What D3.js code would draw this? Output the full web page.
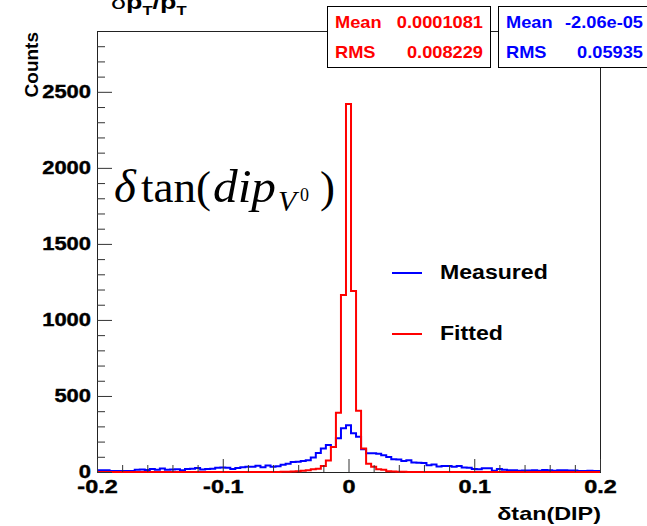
<!DOCTYPE html>
<html>
<head>
<meta charset="utf-8">
<script src="https://cdn.jsdelivr.net/npm/d3@7"></script>
<style>
  body { margin: 0; background: #fff; }
  svg { display: block; }
</style>
</head>
<body>
<svg id="chart"></svg>
<script>
// histogram binning (101 bins of 0.004, centred on multiples of 0.004)
var binLow = -0.202;
var binWidth = 0.004;

// Measured (blue), bins from -0.2 to 0.2
var measured = [
  11, 12, 12, 6, 6, 7, 6, 6, 14, 16,
  13, 20, 14, 23, 14, 17, 18, 12, 20, 22,
  26, 17, 20, 21, 28, 30, 28, 20, 26, 31,
  34, 35, 41, 31, 43, 35, 38, 48, 55, 66,
  68, 72, 78, 95, 125, 155, 178, 165, 222, 288,
  308,
  255, 232, 150, 123, 123, 120, 110, 99, 84, 83,
  72, 77, 62, 61, 60, 45, 50, 36, 39, 39,
  35, 39, 29, 28, 20, 18, 25, 24, 9, 20,
  14, 12, 12, 8, 10, 10, 11, 9, 13, 12,
  8, 12, 12, 10, 10, 6, 6, 8, 6, 7
];

// Fitted (red)
var fitted = [
  0, 0, 0, 0, 0, 0, 0, 0, 0, 0,
  0, 0, 0, 0, 0, 0, 0, 0, 0, 0,
  0, 0, 0, 0, 0, 0, 0, 0, 0, 0,
  0, 0, 0, 0, 0, 0, 0, 1, 2, 3,
  5, 8, 12, 18, 22, 40, 75, 165, 390, 1164,
  2420,
  1190, 403, 155, 55, 35, 18, 15, 5, 3, 2,
  1, 0, 0, 0, 0, 0, 0, 0, 0, 0,
  0, 0, 0, 0, 0, 0, 0, 0, 0, 0,
  0, 0, 0, 0, 0, 0, 0, 0, 0, 0,
  0, 0, 0, 0, 0, 0, 0, 0, 0, 0
];

var xTicks = [-0.2, -0.1, 0, 0.1, 0.2];
var xTickLabels = ['-0.2', '-0.1', '0', '0.1', '0.2'];
var yTicks = [0, 500, 1000, 1500, 2000, 2500];
var yTickLabels = ['0', '500', '1000', '1500', '2000', '2500'];

var statNames = ['Mean', 'RMS'];
var fittedStats = ['0.0001081', '0.008229'];
var measuredStats = ['-2.06e-05', '0.05935'];
var legendNames = ['Measured', 'Fitted'];

var svgWidth = 647;
var svgHeight = 526;

var frameLeft = 97;
var frameRight = 600;
var frameTop = 31;
var frameBottom = 472;

var sans = '"Liberation Sans", Arial, Helvetica, sans-serif';
var serif = '"Liberation Serif", "Times New Roman", serif';

var svg = d3.select('#chart')
  .attr('width', svgWidth)
  .attr('height', svgHeight);

var x = d3.scaleLinear()
  .domain([-0.2, 0.2])
  .range([frameLeft, frameRight]);

var y = d3.scaleLinear()
  .domain([0, 2900])
  .range([frameBottom, frameTop]);

// stretched text helper (the picture is a bit wider than it is tall)
function addText(parent, px, py, str, size, stretch, anchor, weight, family, style) {
  return parent.append('text')
    .attr('transform', 'translate(' + px + ',' + py + ') scale(' + stretch + ',1)')
    .attr('text-anchor', anchor || 'start')
    .style('font-family', family || sans)
    .style('font-weight', weight || 'bold')
    .style('font-style', style || 'normal')
    .style('font-size', size + 'px')
    .text(str);
}

svg.append('clipPath').attr('id', 'frame-clip')
  .append('rect')
    .attr('x', frameLeft)
    .attr('y', frameTop - 5)
    .attr('width', frameRight - frameLeft)
    .attr('height', frameBottom - frameTop + 10);

// frame
svg.append('rect')
  .attr('x', frameLeft + 0.5)
  .attr('y', frameTop + 0.5)
  .attr('width', frameRight - frameLeft)
  .attr('height', frameBottom - frameTop)
  .attr('fill', 'none')
  .attr('stroke', '#222')
  .attr('stroke-width', 1);

// histograms as step outlines
function steps(values) {
  var pts = [];
  for (var i = 0; i < values.length; i++) {
    var lo = binLow + i * binWidth;
    pts.push([lo, values[i]]);
    pts.push([lo + binWidth, values[i]]);
  }
  return pts;
}

var line = d3.line()
  .x(function(d) { return x(d[0]); })
  .y(function(d) { return y(d[1]); });

var plot = svg.append('g').attr('clip-path', 'url(#frame-clip)');

plot.append('path')
  .datum(steps(measured))
  .attr('d', line)
  .attr('fill', 'none')
  .attr('stroke', '#0000ff')
  .attr('stroke-width', 2);

plot.append('path')
  .datum(steps(fitted))
  .attr('d', line)
  .attr('fill', 'none')
  .attr('stroke', '#ff0000')
  .attr('stroke-width', 2);

// y axis: minor then major
svg.append('g')
  .attr('transform', 'translate(' + frameLeft + ',0)')
  .call(d3.axisLeft(y)
    .tickValues(d3.range(100, 2900, 100).filter(function(v) { return v % 500 != 0; }))
    .tickSize(-8).tickSizeOuter(0).tickFormat(''))
  .call(function(g) { g.select('.domain').remove(); })
  .selectAll('line').attr('stroke', '#333');

var yAxisG = svg.append('g')
  .attr('transform', 'translate(' + frameLeft + ',0)')
  .call(d3.axisLeft(y)
    .tickValues(yTicks)
    .tickFormat(function(d, i) { return yTickLabels[i]; })
    .tickSize(-15).tickSizeOuter(0).tickPadding(6));
yAxisG.select('.domain').remove();
yAxisG.selectAll('line').attr('stroke', '#333');
yAxisG.selectAll('text')
  .attr('x', -6 / 1.22)
  .attr('transform', 'scale(1.22,1)')
  .attr('fill', '#000')
  .attr('stroke', '#000')
  .attr('stroke-width', 0.4)
  .style('font-family', sans)
  .style('font-weight', 'bold')
  .style('font-size', '18px');

// x axis
svg.append('g')
  .attr('transform', 'translate(0,' + frameBottom + ')')
  .call(d3.axisBottom(x)
    .tickValues(d3.range(-0.18, 0.2, 0.02).filter(function(v) { return Math.abs(Math.round(v * 50) % 5) != 0; }))
    .tickSize(-7).tickSizeOuter(0).tickFormat(''))
  .call(function(g) { g.select('.domain').remove(); })
  .selectAll('line').attr('stroke', '#333');

var xAxisG = svg.append('g')
  .attr('transform', 'translate(0,' + frameBottom + ')')
  .call(d3.axisBottom(x)
    .tickValues(xTicks)
    .tickFormat(function(d, i) { return xTickLabels[i]; })
    .tickSize(-13).tickSizeOuter(0).tickPadding(8));
xAxisG.select('.domain').remove();
xAxisG.selectAll('line').attr('stroke', '#333');
xAxisG.selectAll('text')
  .attr('transform', 'scale(1.3,1)')
  .attr('fill', '#000')
  .attr('stroke', '#000')
  .attr('stroke-width', 0.4)
  .style('font-family', sans)
  .style('font-weight', 'bold')
  .style('font-size', '18px');

// axis titles
addText(svg, 601, 520, 'δtan(DIP)', 18, 1.3, 'end');

svg.append('text')
  .attr('transform', 'translate(38,32) rotate(-90)')
  .attr('text-anchor', 'end')
  .style('font-family', sans)
  .style('font-weight', 'bold')
  .style('font-size', '19px')
  .text('Counts');

// histogram title, cut by the top edge
var title = svg.append('text')
  .attr('transform', 'translate(111,9) scale(1.28,1)')
  .style('font-family', sans)
  .style('font-size', '21px');
title.append('tspan').style('font-weight', 'normal').text('δ');
title.append('tspan').style('font-weight', 'bold').text('p');
title.append('tspan').style('font-weight', 'bold').style('font-size', '13px').attr('dy', 6).text('T');
title.append('tspan').style('font-weight', 'bold').attr('dy', -6).text('/');
title.append('tspan').style('font-weight', 'bold').text('p');
title.append('tspan').style('font-weight', 'bold').style('font-size', '13px').attr('dy', 6).text('T');

// stat boxes
function statBox(bx, bw, color, values, valueRight) {
  svg.append('rect')
    .attr('x', bx + 0.5).attr('y', 6.5)
    .attr('width', bw).attr('height', 61)
    .attr('fill', '#fff').attr('stroke', '#000').attr('stroke-width', 1);
  for (var i = 0; i < statNames.length; i++) {
    var by = 28 + i * 30;
    addText(svg, bx + 8, by, statNames[i], 16, 1.14, 'start').attr('fill', color);
    addText(svg, valueRight, by, values[i], 16, 1.14, 'end').attr('fill', color);
  }
}
statBox(327, 163, '#ff0000', fittedStats, 483);
statBox(498, 170, '#0000ff', measuredStats, 643);

// big formula label
var formula = svg.append('g');
addText(formula, 114, 202, 'δ', 47, 1, 'start', 'normal', serif, 'italic');
addText(formula, 141, 202, 'tan(', 45, 1, 'start', 'normal', serif);
addText(formula, 213, 202, 'dip', 47, 1.05, 'start', 'normal', serif, 'italic');
addText(formula, 278, 211, 'V', 30, 1, 'start', 'normal', serif, 'italic');
addText(formula, 300, 201, '0', 18, 1, 'start', 'normal', serif);
addText(formula, 320, 202, ')', 45, 1, 'start', 'normal', serif);

// legend
var legendColors = ['#0000ff', '#ff0000'];
var legendY = [273, 334];
for (var i = 0; i < legendNames.length; i++) {
  svg.append('line')
    .attr('x1', 392).attr('x2', 422)
    .attr('y1', legendY[i]).attr('y2', legendY[i])
    .attr('stroke', legendColors[i]).attr('stroke-width', 2);
  addText(svg, 440, legendY[i] + 6, legendNames[i], 21, 1.1, 'start');
}
</script>
</body>
</html>
